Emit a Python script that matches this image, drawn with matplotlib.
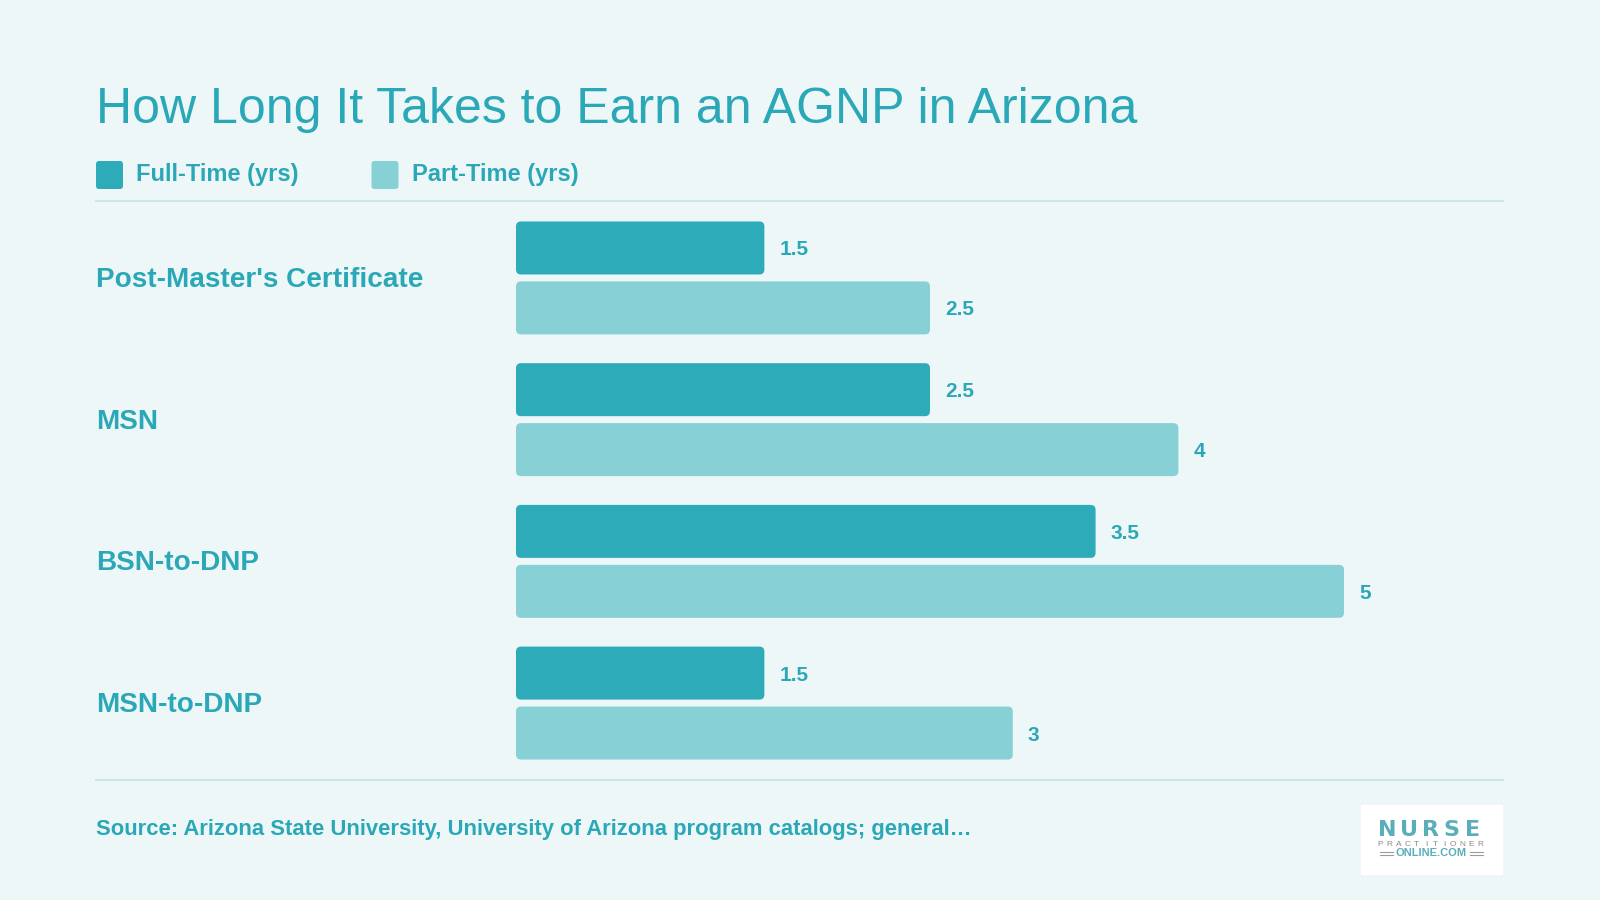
import matplotlib
matplotlib.use("Agg")
import matplotlib.pyplot as plt
from matplotlib.patches import FancyBboxPatch, Rectangle
from matplotlib.transforms import blended_transform_factory, offset_copy
import numpy as np

categories = ["Post-Master's Certificate", "MSN", "BSN-to-DNP", "MSN-to-DNP"]
full_time = [1.5, 2.5, 3.5, 1.5]
part_time = [2.5, 4, 5, 3]
value_labels_ft = ["1.5", "2.5", "3.5", "1.5"]
value_labels_pt = ["2.5", "4", "5", "3"]
series_names = ["Full-Time (yrs)", "Part-Time (yrs)"]
title = "How Long It Takes to Earn an AGNP in Arizona"
source = "Source: Arizona State University, University of Arizona program catalogs; general\u2026"

BG = "#EEF7F7"
DARK = "#2DABB9"
LIGHT = "#86D0D6"
TEXT = "#2AA8B8"
RULE = "#C8E8EB"
LOGO = "#5AAEB9"
FONT = "Liberation Sans"

W, H = 1600, 900
fig = plt.figure(figsize=(16, 9), dpi=100)
fig.patch.set_facecolor(BG)

def fx(px):
    return px / W

def fy(py):
    return 1 - py / H

# Title
fig.text(fx(96), fy(123), title, fontsize=36, color=TEXT, family=FONT,
         va="baseline", ha="left")

# Legend
for i, (name, col) in enumerate(zip(series_names, [DARK, LIGHT])):
    x0 = [96, 371.5][i]
    sq = FancyBboxPatch((fx(x0), fy(189)), fx(27), 28 / H,
                        boxstyle="round,pad=0,rounding_size=0.002",
                        mutation_aspect=(1 / H) / (1 / W),
                        transform=fig.transFigure, facecolor=col,
                        edgecolor="none")
    fig.patches.append(sq)
    fig.text(fx(x0 + 40), fy(175), name, fontsize=17, fontweight="bold",
             color=TEXT, family=FONT, va="center", ha="left")

# Rules
fig.add_artist(plt.Line2D([fx(96), fx(1503)], [fy(201), fy(201)],
                          color=RULE, lw=1.5, transform=fig.transFigure))
fig.add_artist(plt.Line2D([fx(96), fx(1503)], [fy(780), fy(780)],
                          color=RULE, lw=1.5, transform=fig.transFigure))

# Bars axes
ax_left, ax_right = 516, 1493
ax_top, ax_bot = 201, 780
ax = fig.add_axes([fx(ax_left), fy(ax_bot), fx(ax_right - ax_left),
                   (ax_bot - ax_top) / H])
ax.set_facecolor("none")
xmax = 5.9
ax.set_xlim(0, xmax)
ax.set_ylim(3.543, -0.543)
ax.axis("off")

y = np.arange(len(categories))
off = 0.2115
bh = 0.374
b1 = ax.barh(y - off, full_time, height=bh, color=DARK)
b2 = ax.barh(y + off, part_time, height=bh, color=LIGHT)

xunit = xmax / (ax_right - ax_left)          # data per px in x
yunit = (3.543 + 0.543) / (ax_bot - ax_top)  # data per px in y
r_px = 5
for bars in (b1, b2):
    for p in bars:
        p.set_visible(False)
        x, yy = p.get_x(), p.get_y()
        w, h = p.get_width(), p.get_height()
        rp = FancyBboxPatch((x, yy), w, h,
                            boxstyle=f"round,pad=0,rounding_size={r_px * xunit}",
                            mutation_aspect=yunit / xunit,
                            facecolor=p.get_facecolor(), edgecolor="none")
        ax.add_patch(rp)

for i in range(len(categories)):
    ax.annotate(value_labels_ft[i], (full_time[i], y[i] - off),
                xytext=(15, -2), textcoords="offset pixels", va="center",
                ha="left", fontsize=15, fontweight="bold", color=TEXT,
                family=FONT)
    ax.annotate(value_labels_pt[i], (part_time[i], y[i] + off),
                xytext=(15, -2), textcoords="offset pixels", va="center",
                ha="left", fontsize=15, fontweight="bold", color=TEXT,
                family=FONT)

tr = blended_transform_factory(fig.transFigure, ax.transData)
tr = offset_copy(tr, fig=fig, x=0, y=-2, units="dots")
for i, c in enumerate(categories):
    ax.text(fx(96), y[i], c, transform=tr, fontsize=20.1, fontweight="bold",
            color=TEXT, family=FONT, va="center", ha="left")

# Source
fig.text(fx(96), fy(830), source, fontsize=15.8, fontweight="bold", color=TEXT,
         family=FONT, va="center", ha="left")

# Logo
fig.patches.append(Rectangle((fx(1361), fy(874.5)), fx(142), 69.5 / H,
                             transform=fig.transFigure, facecolor="white",
                             edgecolor="none"))
for k, ch in enumerate("NURSE"):
    fig.text(fx(1387 + k * 21.5), fy(830), ch, fontsize=16, fontweight="bold",
             color=LOGO, family="DejaVu Sans", ha="center", va="center")
for k, ch in enumerate("PRACTITIONER"):
    fig.text(fx(1380.5 + k * 9.1), fy(844), ch, fontsize=6, color="#8A8A8A",
             family=FONT, ha="center", va="center")
fig.text(fx(1431.5), fy(853), "ONLINE.COM", fontsize=8, fontweight="bold",
         color=LOGO, family=FONT, ha="center", va="center")
for xa, xb in [(1380, 1393), (1470, 1483)]:
    for yy in (851.7, 854.5):
        fig.add_artist(plt.Line2D([fx(xa), fx(xb)], [fy(yy)] * 2,
                                  color="#9A9A9A", lw=0.8,
                                  transform=fig.transFigure))

fig.savefig("out.png", dpi=100, facecolor=BG)
